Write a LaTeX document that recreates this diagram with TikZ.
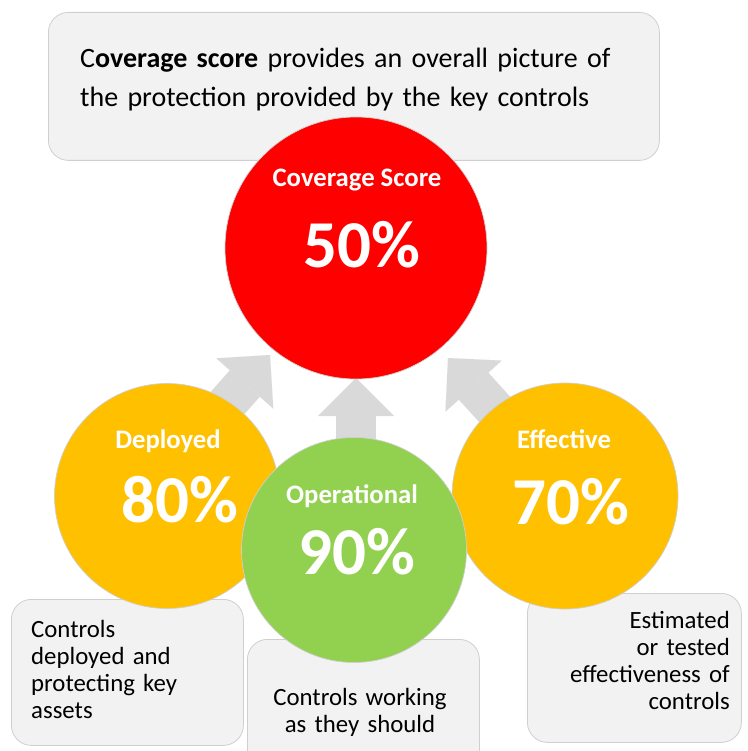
\documentclass[tikz,border=0pt]{standalone}
\usepackage{fontspec}
\setmainfont{Carlito}
\usetikzlibrary{arrows.meta}
\definecolor{boxgray}{HTML}{F2F2F2}
\definecolor{edgegray}{HTML}{CFCFCF}
\definecolor{arrowgray}{HTML}{D9D9D9}
\definecolor{scorered}{HTML}{FF0000}
\definecolor{amber}{HTML}{FFC000}
\definecolor{leafgreen}{HTML}{92D050}
\tikzset{
  notebox/.style={draw=edgegray, line width=.8pt, fill=boxgray, rounded corners=20pt, anchor=north west, inner sep=0pt},
  disc/.style={circle, draw=edgegray, line width=.7pt, inner sep=0pt, minimum size=#1},
  bigarrow/.style={arrowgray, line width=40pt, -{Triangle[length=38pt, width=76pt, line width=.01pt]}},
  head/.style={white, font=\bfseries\fontsize{26.7}{30}\selectfont, anchor=base, inner sep=0pt},
  pct/.style={white, font=\bfseries\fontsize{67}{70}\selectfont, anchor=base, inner sep=0pt},
  note/.style={font=\fontsize{24.8}{27}\selectfont, anchor=base west, inner sep=0pt, text width=#1, align=left},
}
\begin{document}
\begin{tikzpicture}[x=1pt, y=-1pt]
  \useasboundingbox (0,0) rectangle (747,751);

  \node[notebox, minimum width=611pt, minimum height=148pt] (topbox) at (48,12) {};
  \node[notebox, minimum width=232pt, minimum height=146pt] (depbox) at (11,599) {};
  \node[notebox, minimum width=232pt, minimum height=130pt] (opbox) at (247,639) {};
  \node[notebox, minimum width=214pt, minimum height=149pt] (effbox) at (527,593) {};

  \coordinate (tailL) at (171,467);
  \coordinate (tipL) at (270,355);
  \coordinate (tailM) at (356,480);
  \coordinate (tipM) at (356,378);
  \coordinate (tailR) at (547,467);
  \coordinate (tipR) at (448,358);
  \draw[bigarrow] (tailL) -- (tipL);
  \draw[bigarrow] (tailM) -- (tipM);
  \draw[bigarrow] (tailR) -- (tipR);

  \node[disc=262pt, fill=scorered] (cov) at (356,248) {};
  \node[disc=225pt, fill=amber] (dep) at (167,496) {};
  \node[disc=226pt, fill=amber] (eff) at (565,496) {};
  \node[disc=225pt, fill=leafgreen] (op) at (354,550) {};

  \node[head] (covname) at (357,187) {Coverage Score};
  \node[pct] (covpct) at (362,267) {50\%};
  \node[head] (depname) at (168,448) {Deployed};
  \node[pct] (deppct) at (180,522) {80\%};
  \node[head] (effname) at (564,448) {Effective};
  \node[pct] (effpct) at (571,524) {70\%};
  \node[head] (opname) at (352,503) {Operational};
  \node[pct] (oppct) at (357,574) {90\%};

  \node[note=570pt, font=\fontsize{28}{38.5}\selectfont] (toptext) at (80,68)
    {C\textbf{overage score} provides an overall picture of\\the protection provided by the key controls};
  \node[note=205pt] (deptext) at (31,637) {Controls\\deployed and\\protecting key\\assets};
  \node[note=225pt, anchor=base, align=center] (optext) at (360,705) {Controls working\\as they should};
  \node[note=205pt, anchor=base east, align=right] (efftext) at (730,628) {Estimated\\or tested\\effectiveness of\\controls};
\end{tikzpicture}
\end{document}
